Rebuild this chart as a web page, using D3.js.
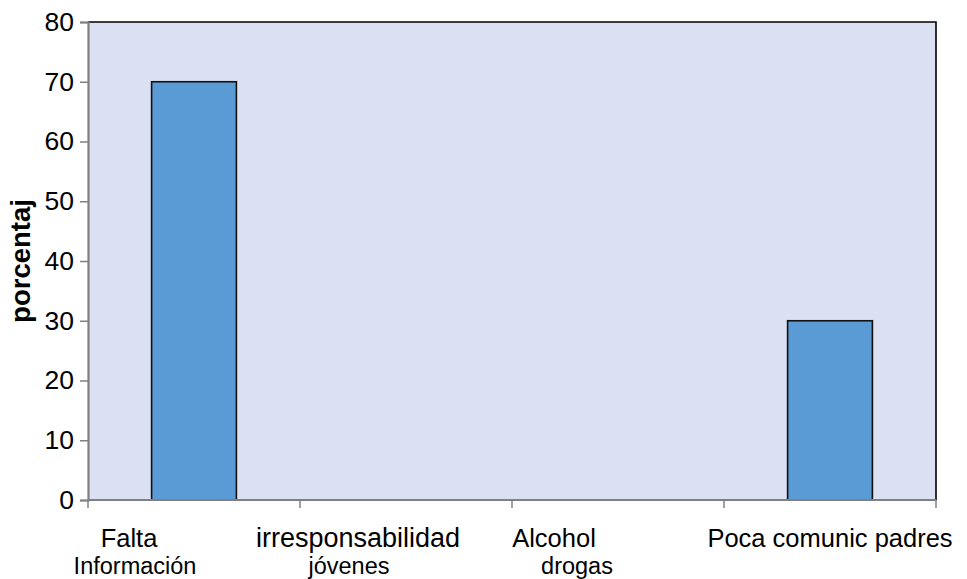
<!DOCTYPE html>
<html>
<head>
<meta charset="utf-8">
<script src="https://cdn.jsdelivr.net/npm/d3@7"></script>
<style>
  html, body { margin: 0; padding: 0; background: #ffffff; }
  svg { display: block; font-family: Arial, "Liberation Sans", sans-serif; }
</style>
</head>
<body>
<svg id="chart" width="967" height="579"></svg>
<script>
// ---- data ----
const categories = ["Falta Información", "irresponsabilidad jóvenes", "Alcohol drogas", "Poca comunic padres"];
const labelLine1 = ["Falta", "irresponsabilidad", "Alcohol", "Poca comunic padres"];
const labelLine2 = ["Información", "jóvenes", "drogas", ""];
const values = [70, 0, 0, 30];
const yTicks = [0, 10, 20, 30, 40, 50, 60, 70, 80];
const yLabel = "porcentaj";

// ---- layout ----
const W = 967, H = 579;
const margin = { left: 88, right: 31, top: 22, bottom: 79 };
const line1Offset = [-65, -48, -64, 0];
const line2Offset = [-59, -57, -41, 0];
const line1Size = [25.5, 27, 25.5, 25.5];

const svg = d3.select("#chart");
const x = d3.scaleBand().domain(categories).range([margin.left, W - margin.right]).paddingInner(0).paddingOuter(0);
const y = d3.scaleLinear().domain([0, 80]).range([H - margin.bottom, margin.top]);

const barW = x.bandwidth() * 0.40;

// plot background
svg.append("rect")
  .attr("x", margin.left).attr("y", margin.top)
  .attr("width", W - margin.left - margin.right)
  .attr("height", H - margin.top - margin.bottom)
  .attr("fill", "#dce0f3");

// top and right border
svg.append("path")
  .attr("d", `M${margin.left},${margin.top}H${W - margin.right}V${H - margin.bottom}`)
  .attr("fill", "none").attr("stroke", "#000").attr("stroke-width", 1.6);

// bars
svg.selectAll("rect.bar").data(values).enter().append("rect")
  .attr("class", "bar")
  .attr("x", (d, i) => x(categories[i]) + (x.bandwidth() - barW) / 2)
  .attr("y", d => y(d))
  .attr("width", barW)
  .attr("height", d => y(0) - y(d))
  .attr("fill", "#5b9bd5")
  .attr("stroke", "#111")
  .attr("stroke-width", 1.6)
  .style("display", d => d > 0 ? null : "none");

// y axis
const yAxis = svg.append("g").attr("transform", `translate(${margin.left},0)`)
  .call(d3.axisLeft(y).tickValues(yTicks).tickSize(8).tickPadding(6).tickFormat(d3.format("d")));
yAxis.attr("font-size", null).attr("font-family", null);
yAxis.select(".domain").attr("stroke", "#808080").attr("stroke-width", 2.2);
yAxis.selectAll(".tick line").attr("stroke", "#808080").attr("stroke-width", 1.5);
yAxis.selectAll(".tick text").attr("fill", "#000")
  .style("font-size", "26.5px")
  .style("font-family", "Arial, 'Liberation Sans', sans-serif");

// x axis baseline + ticks at band boundaries
const boundaries = categories.map(c => x(c)).concat([x(categories[categories.length - 1]) + x.bandwidth()]);
svg.append("line")
  .attr("x1", margin.left).attr("x2", W - margin.right)
  .attr("y1", y(0)).attr("y2", y(0))
  .attr("stroke", "#808080").attr("stroke-width", 2.2);
svg.selectAll("line.xtick").data(boundaries).enter().append("line")
  .attr("class", "xtick")
  .attr("x1", d => d).attr("x2", d => d)
  .attr("y1", y(0)).attr("y2", y(0) + 8)
  .attr("stroke", "#808080").attr("stroke-width", 1.5);

// x labels
svg.selectAll("text.l1").data(labelLine1).enter().append("text")
  .attr("class", "l1")
  .attr("x", (d, i) => x(categories[i]) + x.bandwidth() / 2 + line1Offset[i])
  .attr("y", 547)
  .attr("text-anchor", "middle")
  .attr("font-size", (d, i) => line1Size[i])
  .attr("fill", "#000")
  .text(d => d);
svg.selectAll("text.l2").data(labelLine2).enter().append("text")
  .attr("class", "l2")
  .attr("x", (d, i) => x(categories[i]) + x.bandwidth() / 2 + line2Offset[i])
  .attr("y", 574)
  .attr("text-anchor", "middle")
  .attr("font-size", 23.5)
  .attr("fill", "#000")
  .text(d => d);

// y label
svg.append("text")
  .attr("transform", `translate(30,${(y(0) + y(80)) / 2}) rotate(-90)`)
  .attr("text-anchor", "middle")
  .attr("font-size", 27.5)
  .attr("font-weight", "bold")
  .attr("fill", "#000")
  .text(yLabel);
</script>
</body>
</html>
